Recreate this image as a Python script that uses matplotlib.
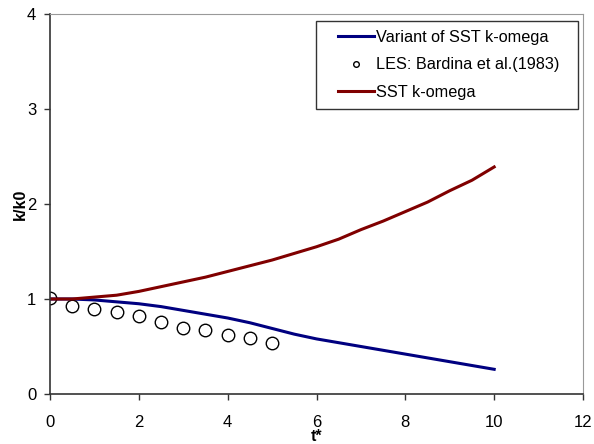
import matplotlib
matplotlib.use("Agg")
import matplotlib.pyplot as plt
from matplotlib.legend_handler import HandlerLine2D
from matplotlib.lines import Line2D

plt.rcParams["font.family"] = ["Liberation Sans", "DejaVu Sans"]

# decay of turbulent kinetic energy, normalised by k0
t_model = [0, 0.5, 1, 1.5, 2, 2.5, 3, 3.5, 4, 4.5, 5, 5.5, 6, 6.5, 7, 7.5, 8, 8.5, 9, 9.5, 10]
k_variant = [1.0, 1.0, 0.99, 0.97, 0.95, 0.92, 0.88, 0.84, 0.80, 0.75, 0.69,
             0.63, 0.58, 0.54, 0.50, 0.46, 0.42, 0.38, 0.34, 0.30, 0.26]
k_sst = [1.0, 1.0, 1.02, 1.04, 1.08, 1.13, 1.18, 1.23, 1.29, 1.35, 1.41,
         1.48, 1.55, 1.63, 1.73, 1.82, 1.92, 2.02, 2.14, 2.25, 2.39]

t_les = [0, 0.5, 1, 1.5, 2, 2.5, 3, 3.5, 4, 4.5, 5]
k_les = [1.01, 0.93, 0.90, 0.86, 0.82, 0.76, 0.70, 0.67, 0.62, 0.59, 0.54]

x_ticks = [0, 2, 4, 6, 8, 10, 12]
y_ticks = [0, 1, 2, 3, 4]

fig = plt.figure(figsize=(5.94, 4.44), dpi=100)
ax = fig.add_axes([0.0842, 0.1126, 0.8973, 0.8559])

ax.plot(t_model, k_variant, color="#000080", lw=2.2, label="Variant of SST k-omega")
ax.plot(t_les, k_les, "o", mfc="none", mec="black", ms=9, mew=1.0,
        label="LES: Bardina et al.(1983)  ")
ax.plot(t_model, k_sst, color="#800000", lw=2.2, label="SST k-omega")

ax.set_xlim(0, 12)
ax.set_ylim(0, 4)
ax.set_xticks(x_ticks)
ax.set_yticks(y_ticks)
ax.tick_params(axis="both", labelsize=12, direction="out", length=4, width=1, color="#333333")
ax.tick_params(axis="x", pad=11)
ax.tick_params(axis="y", pad=6)

for side in ("top", "right"):
    ax.spines[side].set_color("#999999")
for side in ("left", "bottom"):
    ax.spines[side].set_color("#333333")
    ax.spines[side].set_linewidth(1.2)

ax.set_xlabel("t*", fontsize=11.5, fontweight="bold")
ax.set_ylabel("k/k0", fontsize=11.5, fontweight="bold")
ax.xaxis.set_label_coords(0.5, -0.093)
ax.yaxis.set_label_coords(-0.042, 0.5)

# indent the legend handles a little from the frame
handler = HandlerLine2D(xpad=0.78)
leg = ax.legend(loc="upper right", bbox_to_anchor=(0.99, 0.982), borderaxespad=0,
                fontsize=11.7, frameon=True, fancybox=False, edgecolor="black",
                handlelength=3.0, handletextpad=0.15, labelspacing=0.78,
                borderpad=0.55, markerscale=0.45,
                handler_map={Line2D: handler})
leg.get_frame().set_linewidth(1.0)

fig.savefig("out.png", dpi=100)
